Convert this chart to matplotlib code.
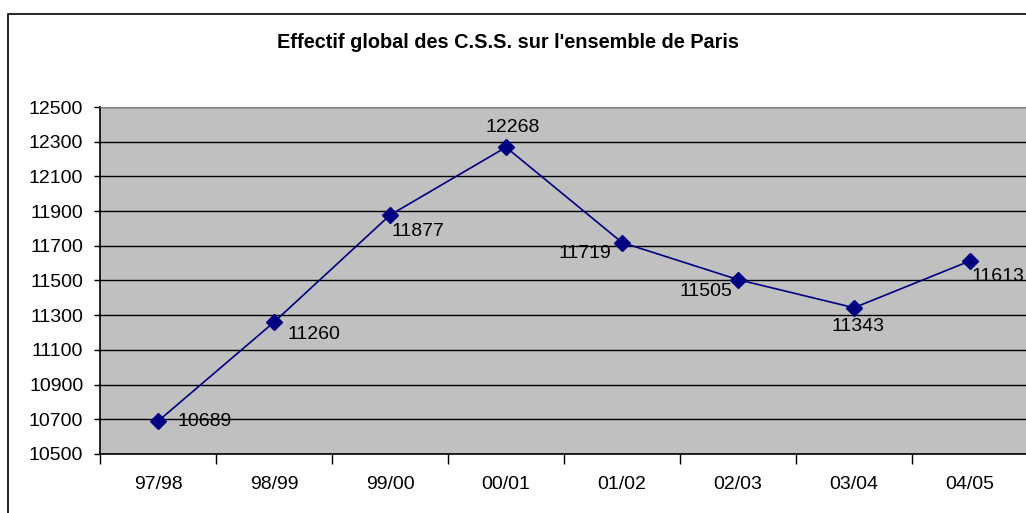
import numpy as np
import matplotlib.pyplot as plt
from matplotlib.patches import Rectangle

plt.rcParams['font.family'] = ['Liberation Sans', 'DejaVu Sans']

# seasons and pupil counts
seasons = ['97/98', '98/99', '99/00', '00/01', '01/02', '02/03', '03/04', '04/05']
effectif = [10689, 11260, 11877, 12268, 11719, 11505, 11343, 11613]
# label offsets (points) and alignment for each data label
label_offsets = [(13.7, 0), (9.4, -9), (1.4, -11.5), (5, 14.4),
                 (-7.9, -7.9), (-4.3, -8.6), (2.9, -13.7), (1.4, -11.5)]
label_align = ['left', 'left', 'left', 'center', 'right', 'right', 'center', 'left']

W, H = 1026, 513
fig = plt.figure(figsize=(W / 100, H / 100), dpi=100)
fig.patch.set_facecolor('white')

# outer chart border
fig.patches.append(Rectangle((8 / W, -0.1), 1.2, 1 - 14 / H + 0.1, transform=fig.transFigure,
                             fill=False, edgecolor='black', linewidth=1.2))

ax = fig.add_axes([100 / W, 1 - 454 / H, 928 / W, 347 / H])
ax.set_facecolor('#C0C0C0')

x = np.arange(len(seasons))
ax.plot(x, effectif, color='#000080', linewidth=1.2, marker='D', markersize=8,
        markerfacecolor='#000080', markeredgecolor='#000080', zorder=3)

for xi, v, off, ha in zip(x, effectif, label_offsets, label_align):
    ax.annotate(str(v), (xi, v), xytext=off, textcoords='offset points',
                ha=ha, va='center', fontsize=14, color='black', zorder=4)

ax.set_xlim(-0.5, len(seasons) - 0.5)
ax.set_ylim(10500, 12500)
ax.set_yticks(np.arange(10500, 12501, 200))
ax.yaxis.grid(True, color='black', linewidth=1)
ax.set_axisbelow(True)

ax.set_xticks(x)
ax.set_xticklabels(seasons)
ax.set_xticks(np.arange(-0.5, len(seasons), 1), minor=True)
ax.tick_params(axis='x', which='major', length=0, pad=16, labelsize=14)
ax.tick_params(axis='x', which='minor', length=7, direction='out', width=1)
ax.tick_params(axis='y', length=4, direction='out', width=1, labelsize=14, pad=8)

for s in ['left', 'bottom']:
    ax.spines[s].set_color('black')
    ax.spines[s].set_linewidth(1.2)
ax.spines['top'].set_color('#808080')
ax.spines['right'].set_visible(False)

fig.text(508 / W, 1 - 43 / H, "Effectif global des C.S.S. sur l'ensemble de Paris",
         ha='center', va='center', fontsize=14.3, fontweight='bold')

fig.savefig('out.png', dpi=100)
